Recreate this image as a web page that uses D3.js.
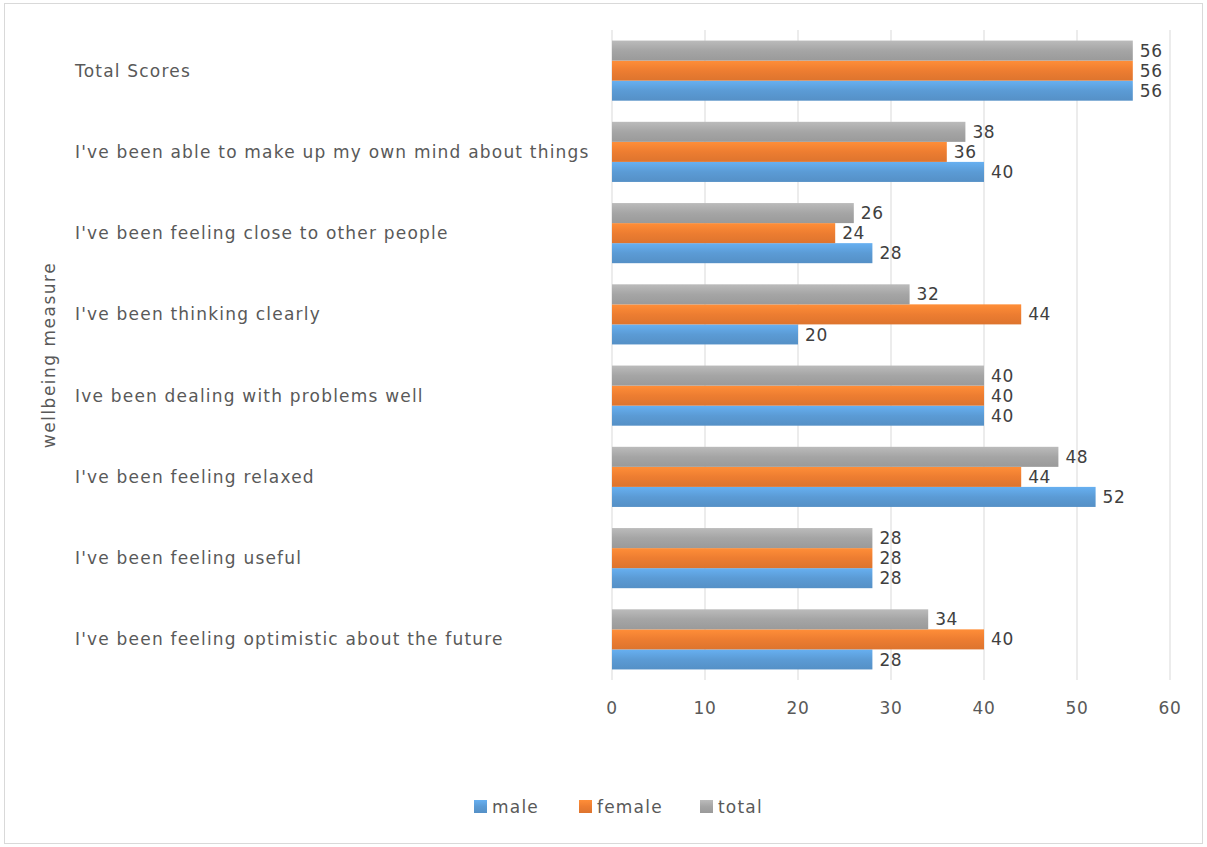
<!DOCTYPE html>
<html>
<head>
<meta charset="utf-8">
<script src="https://cdn.jsdelivr.net/npm/d3@7"></script>
<style>
  html, body { margin: 0; padding: 0; background: #fff; }
  svg { display: block; }
  text { font-family: "DejaVu Sans", "Open Sans", sans-serif; letter-spacing: 1.2px; }
</style>
</head>
<body>
<svg id="chart" width="1207" height="847"></svg>
<script>
// Wellbeing measures, top to bottom
const categories = [
  "Total Scores",
  "I've been able to make up my own mind about things",
  "I've been feeling close to other people",
  "I've been thinking clearly",
  "Ive been dealing with problems well",
  "I've been feeling relaxed",
  "I've been feeling useful",
  "I've been feeling optimistic about the future"
];
const male   = [56, 40, 28, 20, 40, 52, 28, 28];
const female = [56, 36, 24, 44, 40, 44, 28, 40];
const total  = [56, 38, 26, 32, 40, 48, 28, 34];
const seriesNames = ["male", "female", "total"];
const xTicks = [0, 10, 20, 30, 40, 50, 60];

const colors = { male: "#5b9bd5", female: "#ed7d31", total: "#a5a5a5" };
const seriesData = { male, female, total };
const FS = 17;

const svg = d3.select("#chart");

// chart frame
svg.append("rect")
  .attr("x", 4.5).attr("y", 3.5).attr("width", 1198).attr("height", 840)
  .attr("fill", "#fff").attr("stroke", "#d9d9d9").attr("stroke-width", 1);

// bar gradients
const defs = svg.append("defs");
seriesNames.forEach(s => {
  const c = d3.color(colors[s]);
  const g = defs.append("linearGradient").attr("id", "g-" + s)
    .attr("x1", 0).attr("y1", 0).attr("x2", 0).attr("y2", 1);
  g.append("stop").attr("offset", "0%").attr("stop-color", c.brighter(0.35));
  g.append("stop").attr("offset", "50%").attr("stop-color", c);
  g.append("stop").attr("offset", "100%").attr("stop-color", c.darker(0.2));
});

const x = d3.scaleLinear().domain([0, 60]).range([612, 1170]);
const y = d3.scaleBand().domain(categories).range([30, 680]).padding(0);
// bars inside a group: total on top, then female, then male
const inner = d3.scaleBand()
  .domain(["total", "female", "male"])
  .range([0, y.bandwidth() * 0.74]);
const groupOffset = y.bandwidth() * 0.13;

// vertical gridlines
svg.append("g").selectAll("line")
  .data(xTicks.filter(d => d > 0))
  .join("line")
  .attr("x1", d => x(d)).attr("x2", d => x(d))
  .attr("y1", 30).attr("y2", 680)
  .attr("stroke", "#d9d9d9").attr("stroke-width", 1);

// category axis line
svg.append("line")
  .attr("x1", x(0)).attr("x2", x(0)).attr("y1", 30).attr("y2", 680)
  .attr("stroke", "#d9d9d9").attr("stroke-width", 1);

// bars
const groups = svg.append("g").selectAll("g")
  .data(categories)
  .join("g")
  .attr("transform", d => `translate(0,${y(d) + groupOffset})`);

groups.each(function(cat, i) {
  const g = d3.select(this);
  seriesNames.forEach(s => {
    const v = seriesData[s][i];
    g.append("rect")
      .attr("x", x(0))
      .attr("y", inner(s))
      .attr("width", x(v) - x(0))
      .attr("height", inner.bandwidth())
      .attr("fill", `url(#g-${s})`);
    g.append("text")
      .attr("x", x(v) + 7)
      .attr("y", inner(s) + inner.bandwidth() / 2)
      .attr("dy", "0.36em")
      .attr("font-size", FS)
      .attr("fill", "#404040")
      .style("letter-spacing", "0.6px")
      .text(v);
  });
});

// category labels
svg.append("g").selectAll("text")
  .data(categories)
  .join("text")
  .attr("x", 75)
  .attr("y", d => y(d) + y.bandwidth() / 2)
  .attr("dy", "0.36em")
  .attr("font-size", FS)
  .attr("fill", "#595959")
  .text(d => d);

// value axis tick labels
svg.append("g").selectAll("text")
  .data(xTicks)
  .join("text")
  .attr("x", d => x(d))
  .attr("y", 708)
  .attr("dy", "0.36em")
  .attr("text-anchor", "middle")
  .attr("font-size", FS)
  .attr("fill", "#595959")
  .style("letter-spacing", "0.6px")
  .text(d => d);

// axis title
svg.append("text")
  .attr("transform", "translate(49,355) rotate(-90)")
  .attr("text-anchor", "middle")
  .attr("dy", "0.36em")
  .attr("font-size", FS)
  .attr("fill", "#595959")
  .style("letter-spacing", "1.5px")
  .text("wellbeing measure");

// legend
const legendPos = { male: 474, female: 579, total: 700 };
const legend = svg.append("g");
seriesNames.forEach(s => {
  legend.append("rect")
    .attr("x", legendPos[s]).attr("y", 800)
    .attr("width", 13).attr("height", 13)
    .attr("fill", `url(#g-${s})`);
  legend.append("text")
    .attr("x", legendPos[s] + 18).attr("y", 807)
    .attr("dy", "0.36em")
    .attr("font-size", FS)
    .attr("fill", "#595959")
    .text(s);
});
</script>
</body>
</html>
